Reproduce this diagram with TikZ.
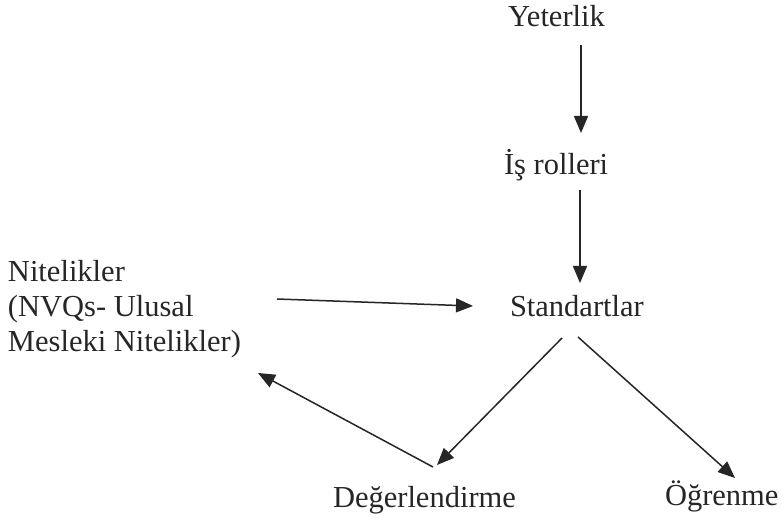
\documentclass[tikz,border=0pt]{standalone}
\usepackage{fontspec}
\setmainfont{Liberation Serif}
\usetikzlibrary{arrows.meta,calc}
\begin{document}
\begin{tikzpicture}[x=1pt,y=1pt,
  lbl/.style={inner sep=0pt, outer sep=0pt, anchor=base west, text=black!85,
    font=\fontsize{30.5}{35}\selectfont},
  conn/.style={line width=1.5pt, draw=black!85,
    -{Triangle[length=17pt,width=14pt]}}]
\useasboundingbox[fill=white] (0,0) rectangle (784,520);
\node[lbl] (yet) at (508,493) {Yeterlik};
\node[lbl] (is) at (504,345) {İş rolleri};
\node[lbl] (std) at (510,204) {Standartlar};
\node[lbl, align=left] (nit) at (8,169) {Nitelikler\\(NVQs- Ulusal\\Mesleki Nitelikler)};
\node[lbl] (deg) at (333,13) {Değerlendirme};
\node[lbl] (ogr) at (665,15) {Öğrenme};
\draw[conn] ($(yet.base west)+(73,-18)$) -- ($(is.base west)+(77,42)$);
\draw[conn] ($(is.base west)+(76,-15)$) -- ($(std.base west)+(70,33)$);
\draw[conn] ($(nit.base west)+(269,52)$) -- ($(std.base west)+(-37,10)$);
\draw[conn] ($(std.base west)+(52,-22)$) -- ($(deg.base west)+(104,42)$);
\draw[conn] ($(std.base west)+(68,-21)$) -- ($(ogr.base west)+(70,27)$);
\draw[conn] ($(deg.base west)+(100,40)$) -- ($(nit.base west)+(250,-22)$);
\end{tikzpicture}
\end{document}
